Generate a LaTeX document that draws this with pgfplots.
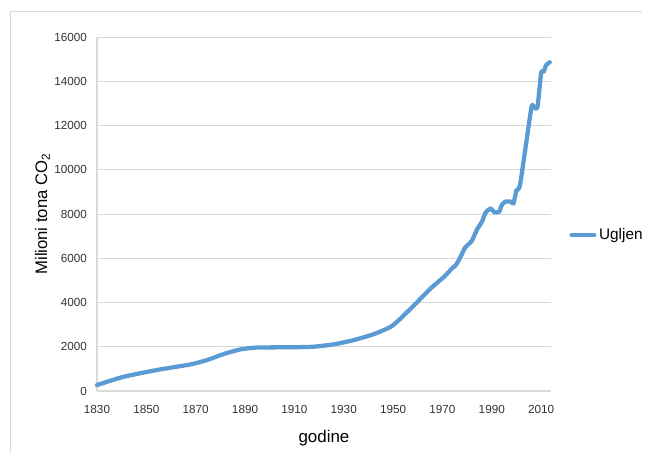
\documentclass[border=0pt]{standalone}
\usepackage{fontspec}
\setmainfont{Liberation Sans}
\usepackage{pgfplots}
\pgfplotsset{compat=1.18}
\definecolor{serija}{HTML}{5B9BD5}
\definecolor{mreza}{HTML}{D9D9D9}
\begin{document}
\begin{tikzpicture}
% okvir slike: 648x457 px, 1 px = 0.75 pt
\useasboundingbox (0,0) rectangle (486pt,342.75pt);
\draw[mreza, line width=0.6pt] (7.5pt,3pt) -- (7.5pt,334.5pt) -- (481.5pt,334.5pt);
\begin{axis}[
    at={(72.75pt,49.5pt)}, anchor=south west,
    scale only axis,
    width=340.5pt, height=265.5pt,
    xmin=1830, xmax=2014,
    ymin=0, ymax=16000,
    xtick={1830,1850,...,2010},
    ytick={0,2000,...,16000},
    scaled ticks=false,
    axis x line*=bottom, axis y line*=left,
    axis line style={mreza, line width=0.8pt},
    ymajorgrids=true,
    grid style={mreza, line width=0.6pt},
    major tick length=0pt,
    tick label style={font=\fontsize{8.8}{10}\selectfont, text=black!80},
    /pgf/number format/1000 sep={},
    /pgf/number format/assume math mode=true,
    xticklabel style={yshift=-7pt},
    yticklabel style={xshift=-4pt},
    xlabel={godine},
    xlabel style={font=\fontsize{12.7}{15}\selectfont, yshift=-6pt},
    ylabel={Milioni tona CO\textsubscript{2}},
    ylabel style={font=\fontsize{12.5}{15}\selectfont, yshift=-3.5pt},
    legend style={draw=none, fill=none, at={(1.04,0.44)}, anchor=west,
        font=\fontsize{11.5}{13}\selectfont, inner sep=0pt},
    legend cell align=left,
    legend image post style={line width=3.2pt},
    clip=false,
]
\addplot[color=serija, line width=3.2pt, smooth, tension=0.35, line cap=round, line join=round]
    coordinates {
    (1830,270)
    (1840.7,640)
    (1854.3,950)
    (1867.8,1200)
    (1874.6,1400)
    (1881.3,1670)
    (1888.1,1880)
    (1894.9,1965)
    (1908.4,1975)
    (1917.9,2003)
    (1926,2110)
    (1934.2,2305)
    (1942.3,2576)
    (1949.1,2906)
    (1953.1,3285)
    (1958.6,3887)
    (1965.3,4642)
    (1970.7,5166)
    (1973,5440)
    (1974,5560)
    (1975.5,5700)
    (1977.5,6100)
    (1979,6450)
    (1980.5,6630)
    (1982,6800)
    (1984,7300)
    (1986,7650)
    (1987.5,8060)
    (1989.5,8250)
    (1991,8080)
    (1993,8100)
    (1994,8400)
    (1995.5,8560)
    (1997.5,8560)
    (1998.8,8480)
    (2000,9080)
    (2001.5,9350)
    (2006,12780)
    (2007,12830)
    (2008.5,12830)
    (2010,14380)
    (2011,14430)
    (2012,14730)
    (2013.5,14860)
    };
\addlegendentry{Ugljen}
\end{axis}
\end{tikzpicture}
\end{document}
